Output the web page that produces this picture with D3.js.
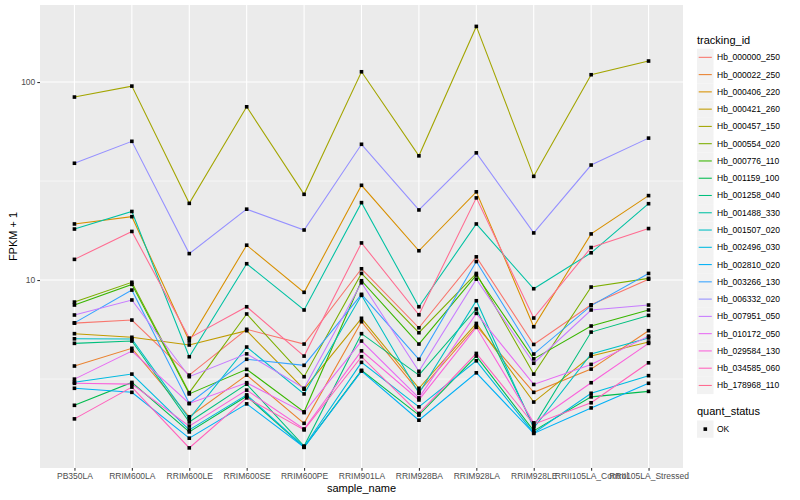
<!DOCTYPE html>
<html>
<head>
<meta charset="utf-8">
<script src="https://cdn.jsdelivr.net/npm/d3@7"></script>
<style>
  body { margin: 0; background: #fff; }
  text { font-family: "Liberation Sans", Arial, Helvetica, sans-serif; }
</style>
</head>
<body>
<script>
// sample order on the x axis
const samples = ["PB350LA", "RRIM600LA", "RRIM600LE", "RRIM600SE", "RRIM600PE", "RRIM901LA",
  "RRIM928BA", "RRIM928LA", "RRIM928LE", "RRII105LA_Control", "RRII105LA_Stressed"];

// FPKM + 1 per gene, same order as samples
const hb_000000_250 = [6.06, 6.28, 3.31, 5.64, 4.75, 11.4, 5.74, 13.1, 4.73, 7.50, 10.1];
const hb_000022_250 = [3.68, 4.52, 2.04, 3.31, 1.89, 6.16, 2.73, 5.86, 2.71, 3.55, 5.55];
const hb_000406_220 = [19.2, 20.9, 4.92, 15.0, 8.67, 30.1, 14.06, 27.9, 5.81, 17.1, 26.7];
const hb_000421_260 = [5.36, 5.14, 4.70, 5.55, 2.81, 6.41, 2.84, 6.04, 2.42, 4.13, 4.86];
const hb_000457_150 = [84.0, 95.4, 24.4, 75.0, 27.1, 112.7, 42.4, 191, 33.4, 108.9, 127.7];
const hb_000554_020 = [7.74, 9.74, 2.70, 6.74, 3.25, 10.8, 5.42, 10.8, 3.35, 9.22, 10.2];
const hb_000776_110 = [7.48, 9.51, 2.66, 3.54, 2.16, 9.92, 4.75, 10.6, 4.00, 5.86, 7.06];
const hb_001159_100 = [2.33, 3.04, 1.71, 2.59, 1.43, 3.50, 2.08, 4.13, 1.73, 2.57, 2.74];
const hb_001258_040 = [4.79, 4.92, 1.92, 2.98, 1.45, 5.36, 3.31, 7.14, 1.83, 5.46, 6.63];
const hb_001488_330 = [18.1, 22.2, 4.10, 12.09, 7.06, 24.6, 7.33, 19.2, 9.04, 13.73, 24.3];
const hb_001507_020 = [5.05, 5.04, 1.99, 4.59, 2.66, 8.37, 2.68, 7.86, 1.79, 4.23, 5.10];
const hb_002496_030 = [3.05, 3.35, 1.75, 2.63, 1.44, 3.84, 2.29, 3.91, 1.69, 2.68, 3.29];
const hb_002810_020 = [2.84, 2.71, 1.59, 2.37, 1.43, 3.47, 1.96, 3.40, 1.68, 2.26, 3.01];
const hb_003266_130 = [6.08, 8.90, 2.38, 3.98, 3.71, 8.47, 3.98, 12.4, 4.23, 7.43, 10.8];
const hb_006332_020 = [38.9, 50.2, 13.6, 22.8, 17.9, 48.5, 22.6, 43.9, 17.3, 38.1, 52.1];
const hb_007951_050 = [6.66, 7.93, 3.25, 4.24, 2.84, 9.69, 3.46, 10.1, 3.80, 7.06, 7.48];
const hb_010172_050 = [3.16, 4.38, 2.38, 3.03, 2.14, 4.92, 2.54, 6.79, 2.97, 3.75, 5.21];
const hb_029584_130 = [3.01, 2.98, 1.83, 2.78, 1.77, 4.39, 2.48, 5.77, 1.90, 3.03, 4.79];
const hb_034585_060 = [1.99, 2.88, 1.42, 2.54, 1.75, 4.10, 2.12, 4.26, 1.87, 2.40, 3.82];
const hb_178968_110 = [12.72, 17.6, 5.09, 7.33, 4.13, 15.4, 6.68, 26.0, 6.43, 14.6, 18.2];

const trackingIds = ["Hb_000000_250", "Hb_000022_250", "Hb_000406_220", "Hb_000421_260",
  "Hb_000457_150", "Hb_000554_020", "Hb_000776_110", "Hb_001159_100", "Hb_001258_040",
  "Hb_001488_330", "Hb_001507_020", "Hb_002496_030", "Hb_002810_020", "Hb_003266_130",
  "Hb_006332_020", "Hb_007951_050", "Hb_010172_050", "Hb_029584_130", "Hb_034585_060",
  "Hb_178968_110"];
const seriesValues = [hb_000000_250, hb_000022_250, hb_000406_220, hb_000421_260, hb_000457_150,
  hb_000554_020, hb_000776_110, hb_001159_100, hb_001258_040, hb_001488_330, hb_001507_020,
  hb_002496_030, hb_002810_020, hb_003266_130, hb_006332_020, hb_007951_050, hb_010172_050,
  hb_029584_130, hb_034585_060, hb_178968_110];
const yTicks = [10, 100];
const yMinor = [Math.sqrt(10), Math.sqrt(1000)];

// ggplot default hue palette for 20 levels
const palette = ["#F8766D", "#EA8331", "#D89000", "#C09B00", "#A3A500", "#7CAE00", "#39B600",
  "#00BB4E", "#00BF7D", "#00C1A3", "#00BFC4", "#00BAE0", "#00B0F6", "#35A2FF", "#9590FF",
  "#C77CFF", "#E76BF3", "#FA62DB", "#FF62BC", "#FF6C91"];

const series = trackingIds.map((id, i) => ({
  id: id,
  color: palette[i],
  values: seriesValues[i].map((v, j) => ({ sample: samples[j], v: v }))
}));

const width = 800, height = 500;
const panel = { left: 40, right: 683, top: 5, bottom: 468 };

const svg = d3.select("body").append("svg")
  .attr("width", width)
  .attr("height", height);

const x = d3.scalePoint()
  .domain(samples)
  .range([panel.left, panel.right])
  .padding(0.6);

const y = d3.scaleLog()
  .domain([1.124, 245])
  .range([panel.bottom, panel.top]);

// panel background
svg.append("rect")
  .attr("x", panel.left)
  .attr("y", panel.top)
  .attr("width", panel.right - panel.left)
  .attr("height", panel.bottom - panel.top)
  .attr("fill", "#EBEBEB");

// grid
svg.append("g").selectAll("line")
  .data(yMinor)
  .enter().append("line")
    .attr("x1", panel.left).attr("x2", panel.right)
    .attr("y1", d => y(d)).attr("y2", d => y(d))
    .attr("stroke", "#fff").attr("stroke-width", 0.55);

svg.append("g").selectAll("line")
  .data(yTicks)
  .enter().append("line")
    .attr("x1", panel.left).attr("x2", panel.right)
    .attr("y1", d => y(d)).attr("y2", d => y(d))
    .attr("stroke", "#fff").attr("stroke-width", 1.1);

svg.append("g").selectAll("line")
  .data(samples)
  .enter().append("line")
    .attr("x1", d => x(d)).attr("x2", d => x(d))
    .attr("y1", panel.top).attr("y2", panel.bottom)
    .attr("stroke", "#fff").attr("stroke-width", 1.1);

// lines
const line = d3.line()
  .x(d => x(d.sample))
  .y(d => y(d.v));

svg.append("g").selectAll("path")
  .data(series)
  .enter().append("path")
    .attr("d", d => line(d.values))
    .attr("fill", "none")
    .attr("stroke", d => d.color)
    .attr("stroke-width", 1.07);

// points
const pts = series.flatMap(s => s.values);
svg.append("g").selectAll("rect")
  .data(pts)
  .enter().append("rect")
    .attr("x", d => x(d.sample) - 1.8)
    .attr("y", d => y(d.v) - 1.8)
    .attr("width", 3.6)
    .attr("height", 3.6)
    .attr("fill", "#000");

// axes
const yAxis = d3.axisLeft(y)
  .tickValues(yTicks)
  .tickFormat(d3.format("d"))
  .tickSize(2.7)
  .tickPadding(2);

svg.append("g")
  .attr("transform", `translate(${panel.left},0)`)
  .call(yAxis)
  .call(g => g.select(".domain").remove())
  .call(g => g.selectAll("line").attr("stroke", "#333").attr("stroke-width", 1.07))
  .call(g => g.selectAll("text").attr("fill", "#4D4D4D").attr("font-size", 8.5)
    .style("font-family", '"Liberation Sans", Arial, sans-serif'));

const xAxis = d3.axisBottom(x)
  .tickSize(2.7)
  .tickPadding(2);

svg.append("g")
  .attr("transform", `translate(0,${panel.bottom})`)
  .call(xAxis)
  .call(g => g.select(".domain").remove())
  .call(g => g.selectAll("line").attr("stroke", "#333").attr("stroke-width", 1.07))
  .call(g => g.selectAll("text").attr("fill", "#4D4D4D").attr("font-size", 8.5)
    .style("font-family", '"Liberation Sans", Arial, sans-serif'));

// axis titles
svg.append("text")
  .attr("x", (panel.left + panel.right) / 2)
  .attr("y", 492)
  .attr("text-anchor", "middle")
  .attr("font-size", 11)
  .text("sample_name");

svg.append("text")
  .attr("transform", `translate(17,${(panel.top + panel.bottom) / 2}) rotate(-90)`)
  .attr("text-anchor", "middle")
  .attr("font-size", 11)
  .text("FPKM + 1");

// legend: tracking_id
const legend = svg.append("g").attr("transform", "translate(697,0)");
legend.append("text")
  .attr("x", 0).attr("y", 44)
  .attr("font-size", 11)
  .text("tracking_id");

const keyH = 17.27;
const keys = legend.selectAll("g.key")
  .data(series)
  .enter().append("g")
    .attr("class", "key")
    .attr("transform", (d, i) => `translate(0,${48.7 + i * keyH})`);

keys.append("rect")
  .attr("width", 16.5).attr("height", keyH)
  .attr("fill", "#F2F2F2");
keys.append("line")
  .attr("x1", 1.7).attr("x2", 14.8)
  .attr("y1", keyH / 2).attr("y2", keyH / 2)
  .attr("stroke", d => d.color)
  .attr("stroke-width", 1.07);
keys.append("text")
  .attr("x", 20).attr("y", keyH / 2 + 3)
  .attr("font-size", 8.5)
  .text(d => d.id);

// legend: quant_status
legend.append("text")
  .attr("x", 0).attr("y", 415)
  .attr("font-size", 11)
  .text("quant_status");
legend.append("rect")
  .attr("x", 0).attr("y", 420.5)
  .attr("width", 16.5).attr("height", keyH)
  .attr("fill", "#F2F2F2");
legend.append("rect")
  .attr("x", 6.5).attr("y", 427.3)
  .attr("width", 3.6).attr("height", 3.6)
  .attr("fill", "#000");
legend.append("text")
  .attr("x", 20).attr("y", 432)
  .attr("font-size", 8.5)
  .text("OK");
</script>
</body>
</html>
